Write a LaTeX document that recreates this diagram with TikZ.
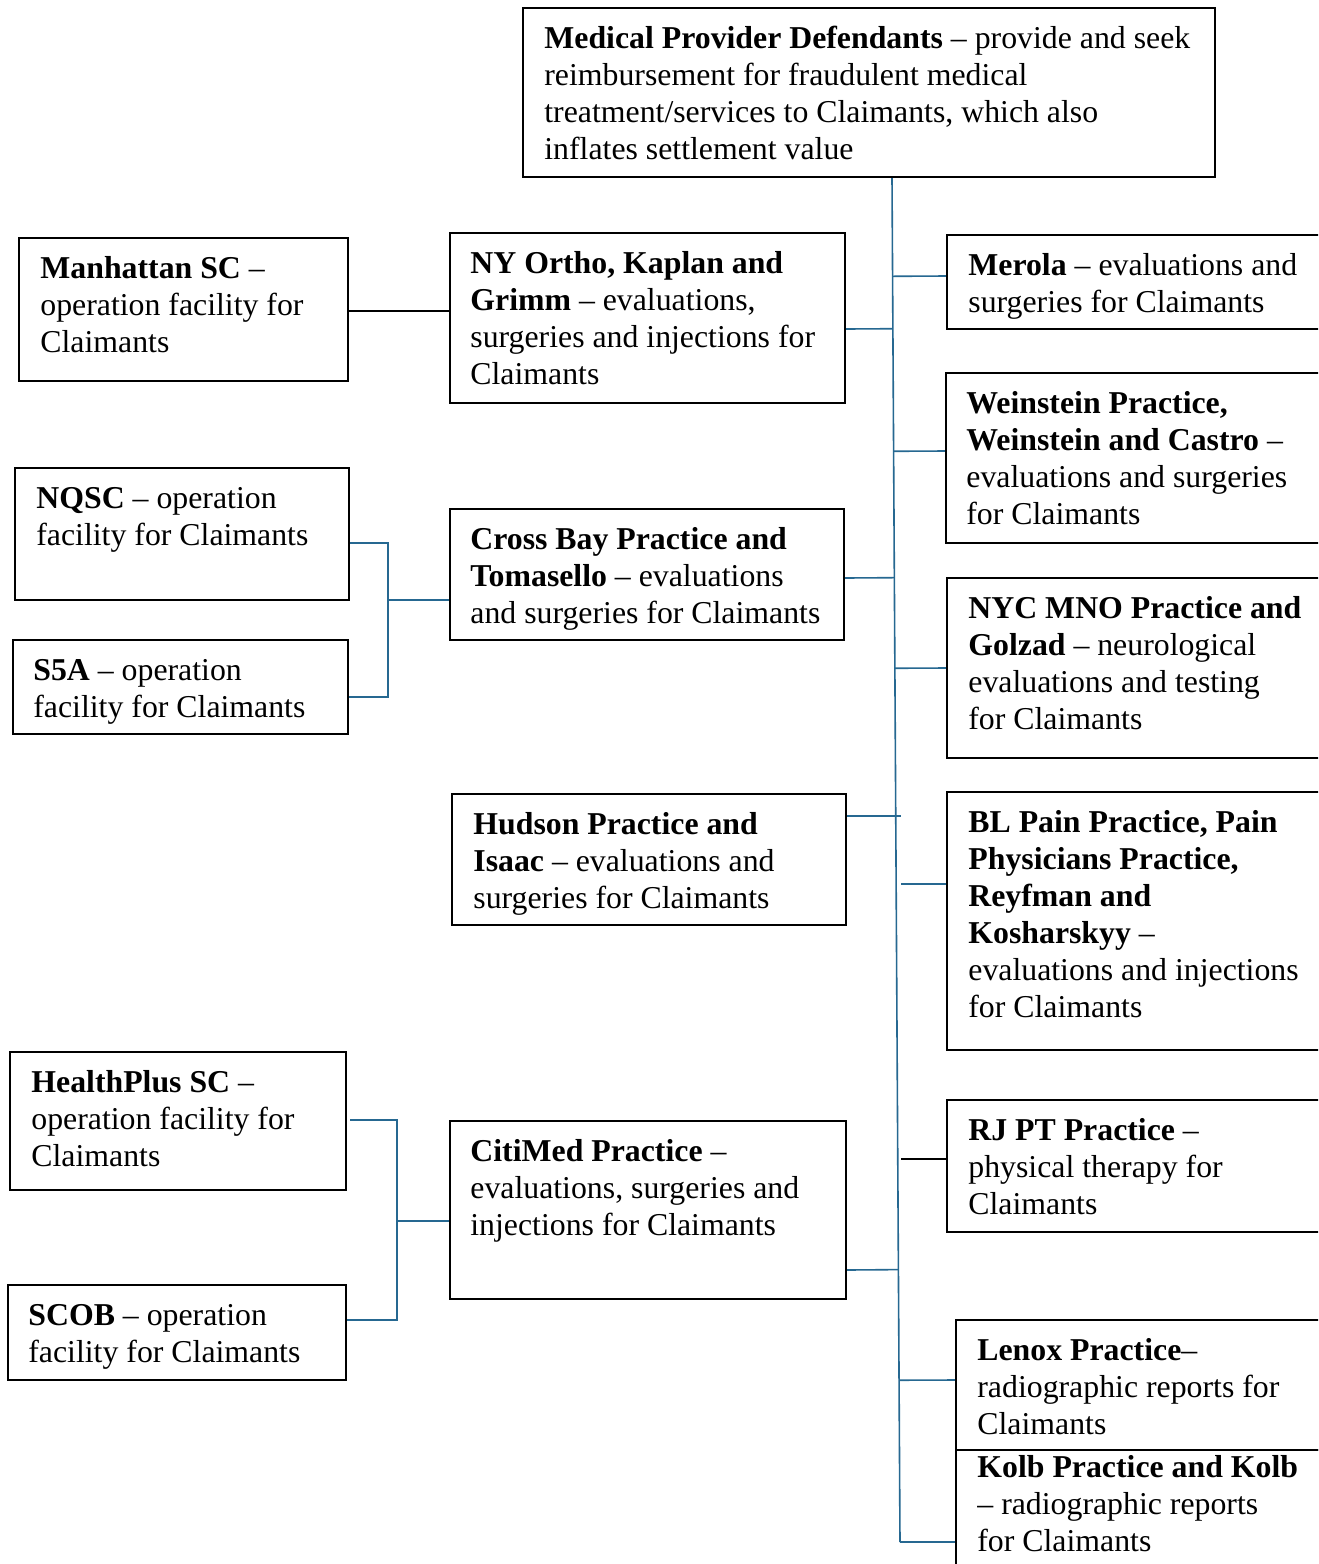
\documentclass[tikz,border=0pt]{standalone}
\usepackage{fontspec}
\setmainfont{Liberation Serif}
\usetikzlibrary{fit,calc}
\definecolor{connblue}{RGB}{38,104,145}
\newcommand\mkbox[5]{\coordinate (#1-a) at (#2,#3); \coordinate (#1-b) at (#4,#5); \node[box,fit=(#1-a)(#1-b)] (#1) {};}
\newcommand\mktext[4]{\node[txt] (#1-t) at (#2,#3-23.4) {\strut #4};}
\begin{document}
\begin{tikzpicture}[x=0.5pt,y=-0.5pt,
  box/.style={draw=black,line width=1.1pt,inner sep=0pt,rectangle},
  txt/.style={anchor=north west,inner sep=0pt,align=left,font=\fontsize{15.9}{18.5}\selectfont},
  conn/.style={draw=connblue,line width=0.8pt},
  connk/.style={draw=black,line width=0.8pt}]
\path[use as bounding box,clip] (0,0) rectangle (1318,1564);
\fill[white] (0,0) rectangle (1318,1564);

% boxes
\mkbox{top}{523}{8}{1215}{177}
\mkbox{manh}{19}{238}{348}{381}
\mkbox{nyortho}{450}{233}{845}{403}
\mkbox{merola}{947}{235}{1330}{329}
\mkbox{weinstein}{946}{373}{1330}{543}
\mkbox{nqsc}{15}{468}{349}{600}
\mkbox{sfa}{13}{640}{348}{734}
\mkbox{crossbay}{450}{509}{844}{640}
\mkbox{nycmno}{947}{578}{1330}{758}
\mkbox{hudson}{452}{794}{846}{925}
\mkbox{blpain}{947}{792}{1330}{1050}
\mkbox{healthplus}{10}{1052}{346}{1190}
\mkbox{citimed}{450}{1121}{846}{1299}
\mkbox{rjpt}{947}{1100}{1330}{1232}
\mkbox{scob}{8}{1285}{346}{1380}
\mkbox{lenox}{956}{1320}{1330}{1450}
\mkbox{kolb}{956}{1450}{1330}{1580}

% texts
\mktext{top}{544}{46}{\textbf{Medical Provider Defendants} -- provide and seek\\ reimbursement for fraudulent medical\\ treatment/services to Claimants, which also\\ inflates settlement value}
\mktext{manh}{40}{276}{\textbf{Manhattan SC} --\\ operation facility for\\ Claimants}
\mktext{nyortho}{470}{271}{\textbf{NY Ortho, Kaplan and}\\ \textbf{Grimm} -- evaluations,\\ surgeries and injections for\\ Claimants}
\mktext{merola}{968}{273}{\textbf{Merola} -- evaluations and\\ surgeries for Claimants}
\mktext{weinstein}{966}{411}{\textbf{Weinstein Practice,}\\ \textbf{Weinstein and Castro} --\\ evaluations and surgeries\\ for Claimants}
\mktext{nqsc}{36}{506}{\textbf{NQSC} -- operation\\ facility for Claimants}
\mktext{sfa}{33}{678}{\textbf{S5A} -- operation\\ facility for Claimants}
\mktext{crossbay}{470}{547}{\textbf{Cross Bay Practice and}\\ \textbf{Tomasello} -- evaluations\\ and surgeries for Claimants}
\mktext{nycmno}{968}{616}{\textbf{NYC MNO Practice and}\\ \textbf{Golzad} -- neurological\\ evaluations and testing\\ for Claimants}
\mktext{hudson}{473}{832}{\textbf{Hudson Practice and}\\ \textbf{Isaac} -- evaluations and\\ surgeries for Claimants}
\mktext{blpain}{968}{830}{\textbf{BL Pain Practice, Pain}\\ \textbf{Physicians Practice,}\\ \textbf{Reyfman and}\\ \textbf{Kosharskyy} --\\ evaluations and injections\\ for Claimants}
\mktext{healthplus}{31}{1090}{\textbf{HealthPlus SC} --\\ operation facility for\\ Claimants}
\mktext{citimed}{470}{1159}{\textbf{CitiMed Practice} --\\ evaluations, surgeries and\\ injections for Claimants}
\mktext{rjpt}{968}{1138}{\textbf{RJ PT Practice} --\\ physical therapy for\\ Claimants}
\mktext{scob}{28}{1323}{\textbf{SCOB} -- operation\\ facility for Claimants}
\mktext{lenox}{977}{1358}{\textbf{Lenox Practice}--\\ radiographic reports for\\ Claimants}
\mktext{kolb}{977}{1475}{\textbf{Kolb Practice and Kolb}\\ -- radiographic reports\\ for Claimants}

% spine
\coordinate (sp-top) at (top.south -| 892,0);
\coordinate (sp-bot) at (900,1542);
\draw[conn] (sp-top) -- (sp-bot);

% right-hand branches
\draw[conn] (merola.west |- 0,276) -- ($(sp-top)!(merola.west |- 0,276)!(sp-bot)$);
\draw[conn] (nyortho.east |- 0,329) -- ($(sp-top)!(nyortho.east |- 0,329)!(sp-bot)$);
\draw[conn] (weinstein.west |- 0,451) -- ($(sp-top)!(weinstein.west |- 0,451)!(sp-bot)$);
\draw[conn] (crossbay.east |- 0,578) -- ($(sp-top)!(crossbay.east |- 0,578)!(sp-bot)$);
\draw[conn] (nycmno.west |- 0,668) -- ($(sp-top)!(nycmno.west |- 0,668)!(sp-bot)$);
\coordinate (hud-end) at (901,816);
\draw[conn] (hudson.east |- hud-end) -- (hud-end);
\coordinate (bl-start) at (901,884);
\draw[conn] (bl-start) -- (blpain.west |- bl-start);
\coordinate (rj-start) at (901,1159);
\draw[connk] (rj-start) -- (rjpt.west |- rj-start);
\draw[conn] (citimed.east |- 0,1270) -- ($(sp-top)!(citimed.east |- 0,1270)!(sp-bot)$);
\draw[conn] ($(sp-top)!(lenox.west |- 0,1380)!(sp-bot)$) -- (lenox.west |- 0,1380);
\draw[conn] (sp-bot) -- (kolb.west |- sp-bot);

% left-hand branches
\draw[connk] (manh.east |- 0,311) -- (nyortho.west |- 0,311);
\coordinate (j1) at (388,600);
\draw[conn] (nqsc.east |- 0,543) -- (j1 |- 0,543) -- (j1 |- 0,697) -- (sfa.east |- 0,697);
\draw[conn] (j1) -- (crossbay.west |- j1);
\coordinate (j2) at (397,1221);
\draw[conn] (350,1120) -- (j2 |- 0,1120) -- (j2 |- 0,1320) -- (scob.east |- 0,1320);
\draw[conn] (j2) -- (citimed.west |- j2);
\end{tikzpicture}
\end{document}
